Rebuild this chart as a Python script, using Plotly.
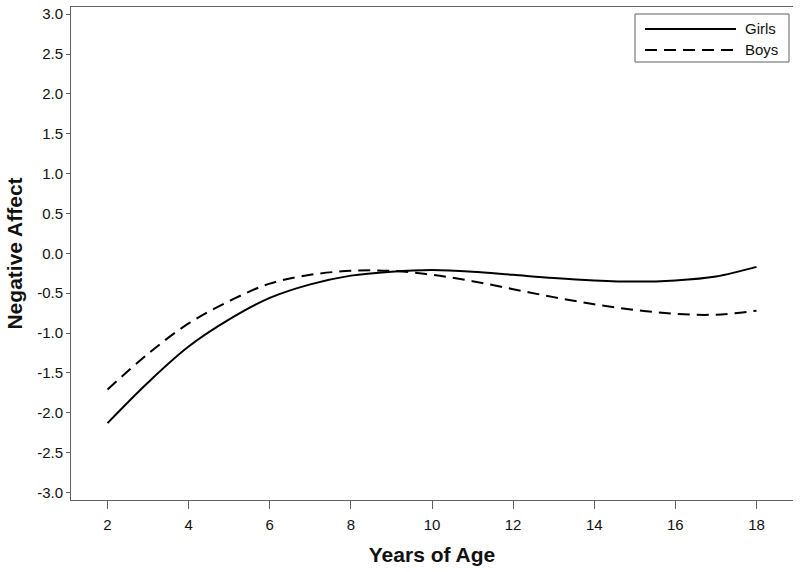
import plotly.graph_objects as go

ages = [2, 3, 4, 5, 6, 7, 8, 9, 10, 11, 12, 13, 14, 15, 16, 17, 18]
girls = [-2.13, -1.62, -1.17, -0.83, -0.56, -0.39, -0.28, -0.23, -0.21, -0.23,
         -0.27, -0.31, -0.34, -0.355, -0.34, -0.29, -0.17]
boys = [-1.71, -1.26, -0.88, -0.60, -0.38, -0.27, -0.22, -0.22, -0.27, -0.35,
        -0.45, -0.55, -0.64, -0.71, -0.76, -0.77, -0.72]

x_ticks = [2, 4, 6, 8, 10, 12, 14, 16, 18]
y_ticks = [-3.0, -2.5, -2.0, -1.5, -1.0, -0.5, 0.0, 0.5, 1.0, 1.5, 2.0, 2.5, 3.0]
y_tick_labels = ["-3.0", "-2.5", "-2.0", "-1.5", "-1.0", "-0.5", "0.0",
                 "0.5", "1.0", "1.5", "2.0", "2.5", "3.0"]
series_names = ["Girls", "Boys"]

FONT = "Arial, Liberation Sans, sans-serif"
AX = "#606060"

fig = go.Figure()
fig.add_trace(go.Scatter(x=ages, y=girls, mode="lines", name=series_names[0],
                         line=dict(color="black", width=2, shape="spline"),
                         showlegend=False))
fig.add_trace(go.Scatter(x=ages, y=boys, mode="lines", name=series_names[1],
                         line=dict(color="black", width=2, shape="spline", dash="12px,7px"),
                         showlegend=False))

L, R, T, B = 71, 7, 7, 72
W, H = 800, 572
pw, ph = W - L - R, H - T - B

def px(x):
    return (x - L) / pw

def py(y):
    return (H - B - y) / ph

shapes = [
    dict(type="rect", xref="paper", yref="paper", x0=px(635), x1=px(789), y0=py(62), y1=py(14),
         line=dict(color=AX, width=1), fillcolor="white"),
    dict(type="line", xref="paper", yref="paper", x0=px(645), x1=px(736), y0=py(29), y1=py(29),
         line=dict(color="black", width=2)),
    dict(type="line", xref="paper", yref="paper", x0=px(645), x1=px(733), y0=py(50), y1=py(50),
         line=dict(color="black", width=2, dash="12px,7px")),
]
annotations = [
    dict(xref="paper", yref="paper", x=px(743), y=py(29), text=series_names[0], showarrow=False,
         xanchor="left", yanchor="middle", font=dict(family=FONT, size=15, color="#111")),
    dict(xref="paper", yref="paper", x=px(743), y=py(50), text=series_names[1], showarrow=False,
         xanchor="left", yanchor="middle", font=dict(family=FONT, size=15, color="#111")),
]

fig.update_layout(
    width=W, height=H,
    margin=dict(l=L, r=R, t=T, b=B),
    plot_bgcolor="white", paper_bgcolor="white",
    font=dict(family=FONT, size=15, color="#111"),
    shapes=shapes, annotations=annotations,
    xaxis=dict(range=[1.1, 18.9], tickvals=x_ticks, ticks="outside", ticklen=8,
               tickcolor=AX, showline=True, linecolor=AX, linewidth=1, mirror=True,
               showgrid=False, zeroline=False, automargin=False, ticklabelstandoff=3,
               tickfont=dict(family=FONT, size=15, color="#111"),
               title=dict(text="<b>Years of Age</b>", standoff=15,
                          font=dict(family=FONT, size=21, color="#111"))),
    yaxis=dict(range=[-3.095, 3.09], tickvals=y_ticks, ticktext=y_tick_labels,
               ticks="outside", ticklen=4, tickcolor=AX, showline=True, linecolor=AX,
               linewidth=1, showgrid=False, zeroline=False, automargin=False,
               tickfont=dict(family=FONT, size=15, color="#111"),
               title=dict(text="<b>Negative Affect</b>", standoff=8,
                          font=dict(family=FONT, size=21, color="#111"))),
)

fig.write_html("out.html", config={"displayModeBar": False},
               post_script="document.body.style.margin='0';document.body.style.padding='0';")
